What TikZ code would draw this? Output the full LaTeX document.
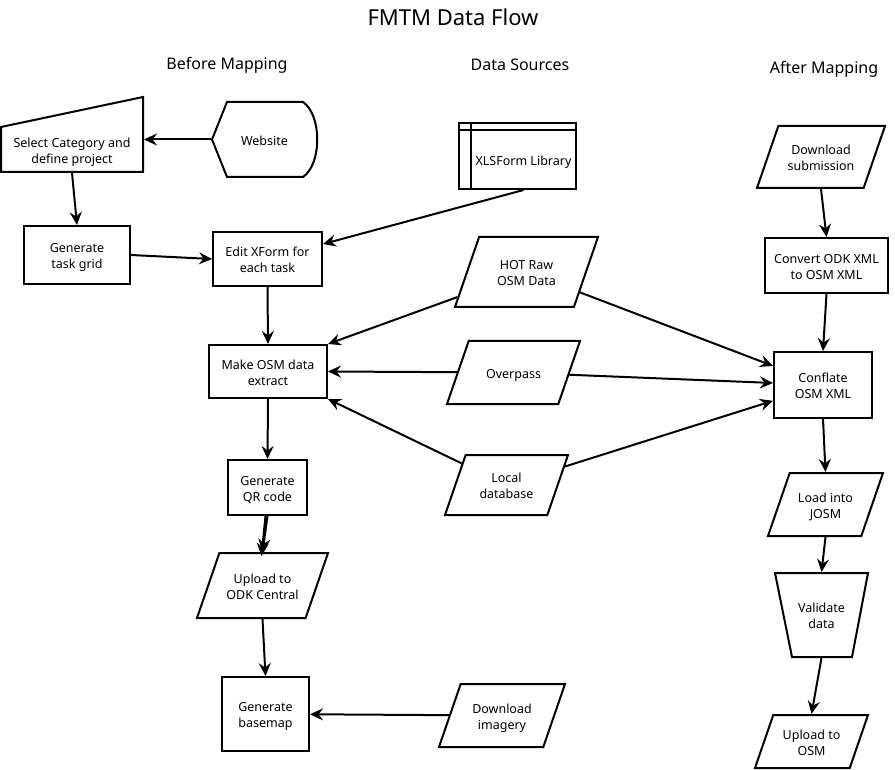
\documentclass[tikz,border=0pt]{standalone}
\usepackage{fontspec}
\setmainfont{Noto Sans}
\usetikzlibrary{shapes.geometric,arrows.meta,calc}

% text of a box, set to the box height
\newcommand{\boxlabel}[2]{\vbox to #1pt{\vss\hbox{\begin{tabular}{@{}c@{}}#2\end{tabular}}\vss\vskip-5pt}}

\tikzset{every picture/.style={line width=2pt}}
\tikzset{
  boxtext/.style={font=\fontsize{12.5}{16}\selectfont, inner sep=0pt},
  proc/.style={boxtext, draw, rectangle},
  data/.style={boxtext, draw, trapezium, trapezium left angle=71, trapezium right angle=109, trapezium stretches body},
  plain/.style={boxtext, rectangle},
  head/.style={font=\fontsize{16}{20}\selectfont},
  flow/.style={-{Stealth[length=13pt,width=12pt,inset=4.5pt]}},
}

\begin{document}
\begin{tikzpicture}[x=1pt,y=1pt,yscale=-1,xscale=1]

\useasboundingbox (0,0) rectangle (895,770);

% Titles
\node [font=\fontsize{22}{26}\selectfont] (title) at (453,17) {FMTM Data Flow};
\node [head] (hbefore) at (227,65) {Before Mapping};
\node [head] (hsources) at (520,65) {Data Sources};
\node [head] (hafter) at (824,69) {After Mapping};

% Manual input
\draw (1,127) -- (143,97) -- (143,172) -- (1,172) -- cycle;
\node [plain, minimum width=142pt] (select) at (72,150) {\boxlabel{44}{Select Category and\\define project}};

% Display
\draw (212,139.5) -- (227,102) -- (303,102) .. controls (322,115) and (322,164) .. (303,177) -- (227,177) -- cycle;
\node [plain, minimum width=105pt] (website) at (264.5,139.5) {\boxlabel{75}{Website}};

% Internal storage
\draw (459,123) rectangle (576,189);
\draw (459,130) -- (576,130);
\draw (471,123) -- (471,189);
\node [plain, minimum width=105pt] (xlsform) at (523.5,159.5) {\boxlabel{59}{XLSForm Library}};

% Manual operation
\draw (775,573) -- (868,573) -- (852,657) -- (792,657) -- cycle;
\node [plain, minimum width=93pt] (validate) at (821.5,615) {\boxlabel{84}{Validate\\data}};

% Process boxes
\node [proc, minimum width=106pt] (taskgrid) at (77,255) {\boxlabel{58}{Generate\\task grid}};
\node [proc, minimum width=109pt] (editxform) at (267.5,259) {\boxlabel{54}{Edit XForm for\\each task}};
\node [proc, minimum width=118pt] (extract) at (268,371.5) {\boxlabel{53}{Make OSM data\\extract}};
\node [proc, minimum width=79pt] (qrcode) at (267.5,487.5) {\boxlabel{55}{Generate\\QR code}};
\node [proc, minimum width=87pt] (basemap) at (265.5,714) {\boxlabel{74}{Generate\\basemap}};
\node [proc, minimum width=123pt] (convert) at (826.5,265.5) {\boxlabel{55}{Convert ODK XML\\to OSM XML}};
\node [proc, minimum width=98pt] (conflate) at (823,385) {\boxlabel{66}{Conflate\\OSM XML}};

% Data boxes
\node [data, minimum width=143pt] (hotraw) at (526.5,272) {\boxlabel{70}{HOT Raw\\OSM Data}};
\node [data, minimum width=133pt] (overpass) at (513.5,372.5) {\boxlabel{63}{Overpass}};
\node [data, minimum width=123pt] (localdb) at (506.5,485) {\boxlabel{60}{Local\\database}};
\node [data, minimum width=131pt] (odkcentral) at (262.5,585.5) {\boxlabel{65}{Upload to\\ODK Central}};
\node [data, minimum width=126pt] (imagery) at (502,715.5) {\boxlabel{63}{Download\\imagery}};
\node [data, minimum width=128pt] (submission) at (821,157) {\boxlabel{62}{Download\\submission}};
\node [data, minimum width=115pt] (josm) at (825.5,504.5) {\boxlabel{63}{Load into\\JOSM}};
\node [data, minimum width=113pt] (uploadosm) at (811.5,741.5) {\boxlabel{53}{Upload to\\OSM}};

% Before mapping
\draw [flow] (website.west) -- (website.west -| select.east);
\draw [flow] (select.south) -- (taskgrid.north);
\draw [flow] (taskgrid.east) -- (editxform.west);
\draw [flow] (xlsform.south) -- (editxform);
\draw [flow] (editxform.south) -- (extract.north);
\draw [flow] (hotraw) -- (extract.north east);
\draw [flow] (overpass) -- (extract.east);
\draw [flow] (localdb) -- (extract.south east);
\draw [flow] (extract.south) -- (qrcode.north);
\draw [flow] (qrcode.south) -- (odkcentral.north);
\draw [flow] ($(qrcode.south)+(-2,0)$) -- ($(odkcentral.north)+(-1,4)$);
\draw [flow] (odkcentral.south) -- (basemap.north);
\draw [flow] (imagery) -- (basemap);

% After mapping
\draw [flow] (hotraw) -- (conflate);
\draw [flow] (overpass) -- (conflate);
\draw [flow] (localdb) -- (conflate);
\draw [flow] (submission.south) -- (convert.north);
\draw [flow] (convert.south) -- (conflate.north);
\draw [flow] (conflate.south) -- (josm.north);
\draw [flow] (josm.south) -- (validate.north);
\draw [flow] (validate.south) -- (uploadosm.north);

\end{tikzpicture}
\end{document}
